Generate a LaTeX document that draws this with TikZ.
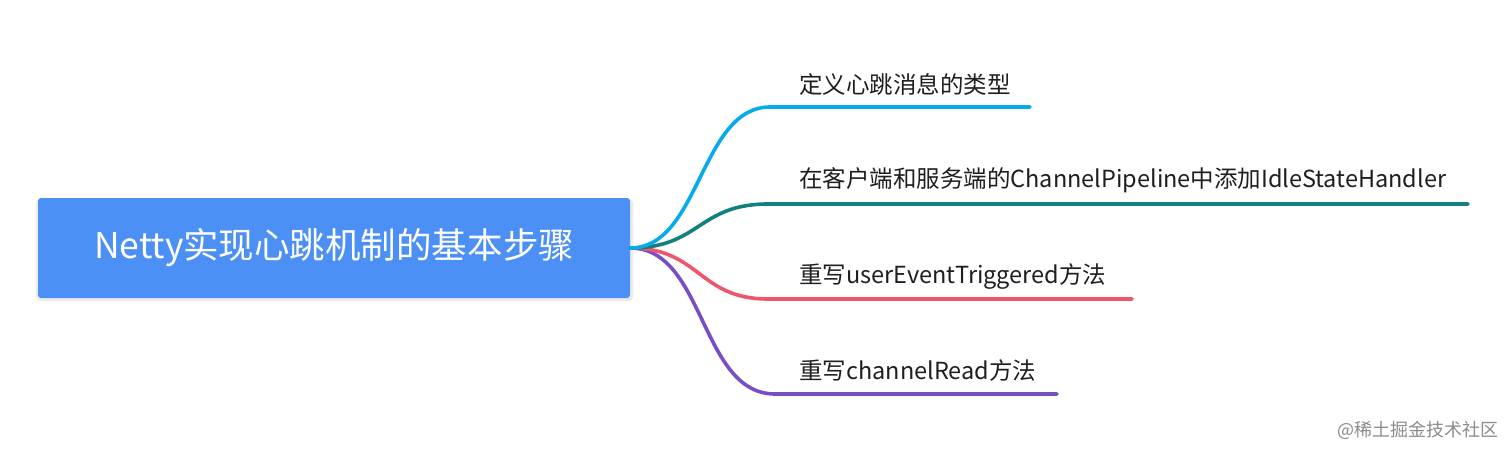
\documentclass[tikz,border=0pt]{standalone}
\usepackage{fontspec}
\setmainfont{Noto Sans CJK SC}
\definecolor{rootblue}{RGB}{76,144,246}
\definecolor{cone}{RGB}{6,172,234}
\definecolor{ctwo}{RGB}{18,128,126}
\definecolor{cthree}{RGB}{237,86,107}
\definecolor{cfour}{RGB}{121,78,194}
\begin{document}
\begin{tikzpicture}[x=1pt,y=-1pt,
  rootbox/.style={fill=rootblue, rounded corners=3pt, minimum width=592pt, minimum height=100pt, inner sep=0pt, text=white, font=\fontsize{35.5}{42}\selectfont},
  branch/.style={line width=3.6pt, line cap=round},
  leaf/.style={anchor=west, inner sep=0pt, font=\fontsize{23.5}{28}\selectfont, text=black!88}]
\useasboundingbox (0,0) rectangle (1512,455);
\fill[white] (0,0) rectangle (1512,455);
\fill[black!8, rounded corners=4pt] (36,199) rectangle (633,301);
\node[rootbox] (root) at (334,248) {Netty实现心跳机制的基本步骤};
\coordinate (b1) at (770,107); \coordinate (e1) at (1030,107);
\coordinate (b2) at (768,204); \coordinate (e2) at (1468,204);
\coordinate (b3) at (768,299); \coordinate (e3) at (1132,299);
\coordinate (b4) at (775,394); \coordinate (e4) at (1057,394);
\draw[branch, cfour] (root.east) .. controls +(75,0) and +(-75,0) .. (b4) -- (e4);
\draw[branch, cthree] (root.east) .. controls +(70,0) and +(-70,0) .. (b3) -- (e3);
\draw[branch, ctwo] (root.east) .. controls +(70,0) and +(-70,0) .. (b2) -- (e2);
\draw[branch, cone] (root.east) .. controls +(70,0) and +(-70,0) .. (b1) -- (e1);
\node[leaf] (t1) at (799,84) {定义心跳消息的类型};
\node[leaf] (t2) at (799,180) {在客户端和服务端的ChannelPipeline中添加IdleStateHandler};
\node[leaf] (t3) at (799,276) {重写userEventTriggered方法};
\node[leaf] (t4) at (799,371) {重写channelRead方法};
\node[anchor=west, inner sep=0pt, text=black!45, font=\fontsize{18}{21}\selectfont] (wm) at (1337,430) {@稀土掘金技术社区};
\end{tikzpicture}
\end{document}
